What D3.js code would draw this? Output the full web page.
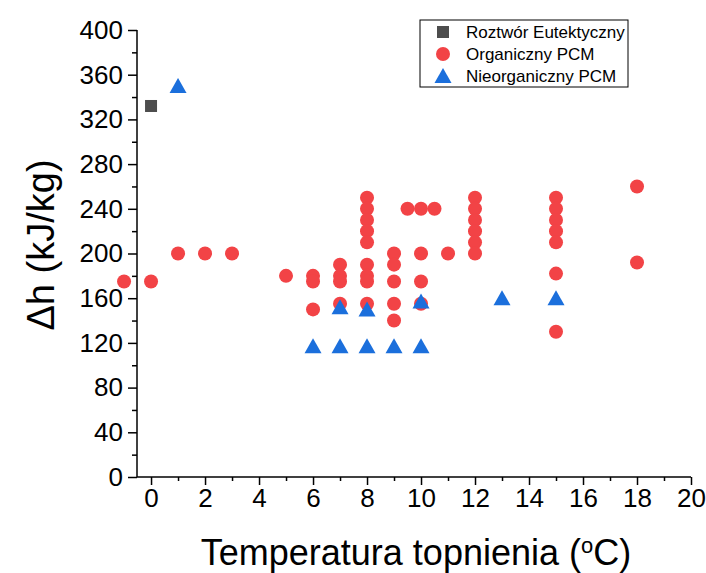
<!DOCTYPE html>
<html>
<head>
<meta charset="utf-8">
<script src="https://cdn.jsdelivr.net/npm/d3@7"></script>
<style>
  body { margin: 0; background: #fff; }
  svg { display: block; font-family: "Liberation Sans", Arial, sans-serif; }
</style>
</head>
<body>
<svg id="chart" width="706" height="573"></svg>
<script>
// melting temperature (°C) and latent heat (kJ/kg)
const eutecticX = [0]
const eutecticY = [332]

const organicX = [-1, 0, 1, 2, 3, 5,
  6, 6, 6,
  7, 7, 7, 7,
  8, 8, 8, 8, 8, 8, 8, 8, 8,
  9, 9, 9, 9, 9,
  9.5, 10, 10.5,
  10, 10, 10,
  11,
  12, 12, 12, 12, 12, 12,
  15, 15, 15, 15, 15, 15, 15,
  18, 18]
const organicY = [175, 175, 200, 200, 200, 180,
  180, 175, 150,
  190, 180, 175, 155,
  250, 240, 230, 220, 210, 190, 180, 175, 155,
  200, 190, 175, 155, 140,
  240, 240, 240,
  200, 175, 155,
  200,
  250, 240, 230, 220, 210, 200,
  250, 240, 230, 220, 210, 182, 130,
  260, 192]

const inorganicX = [1, 6, 7, 8, 9, 10, 7, 8, 10, 13, 15]
const inorganicY = [350, 117, 117, 117, 117, 117, 152, 150, 157, 160, 160]

const xTicks = d3.range(0, 21, 2)
const yTicks = d3.range(0, 401, 40)

const seriesNames = ['Roztwór Eutektyczny', 'Organiczny PCM', 'Nieorganiczny PCM']
const colors = { square: '#4d4d4d', circle: '#f24346', triangle: '#1b6fdc' }

const svg = d3.select('#chart')
const margin = { left: 137, right: 15, top: 30, bottom: 96 }
const width = 706, height = 573

const x = d3.scaleLinear().domain([-0.52, 20]).range([margin.left, width - margin.right])
const y = d3.scaleLinear().domain([0, 400]).range([height - margin.bottom, margin.top])

// axes
const xAxis = svg.append('g').attr('transform', `translate(0,${y(0)})`)
xAxis.append('g')
  .call(d3.axisBottom(x).tickValues(d3.range(1, 20, 2)).tickSize(4).tickFormat(''))
xAxis.append('g')
  .call(d3.axisBottom(x).tickValues(xTicks).tickSize(8).tickPadding(4).tickFormat(d3.format('d')))
xAxis.selectAll('.domain').remove()
xAxis.append('line')
  .attr('x1', x.range()[0]).attr('x2', x(20))
  .attr('stroke', '#000').attr('stroke-width', 1.5)

const yAxis = svg.append('g').attr('transform', `translate(${x.range()[0]},0)`)
yAxis.append('g')
  .call(d3.axisLeft(y).tickValues(d3.range(20, 400, 40)).tickSize(5).tickFormat(''))
yAxis.append('g')
  .call(d3.axisLeft(y).tickValues(yTicks).tickSize(9).tickPadding(5).tickFormat(d3.format('d')))
yAxis.selectAll('.domain').remove()
yAxis.append('line')
  .attr('y1', y(0)).attr('y2', y(400))
  .attr('stroke', '#000').attr('stroke-width', 1.5)

svg.selectAll('.tick line').attr('stroke-width', 1.5)
svg.selectAll('.tick text')
  .attr('font-size', 26)
  .attr('font-family', '"Liberation Sans", Arial, sans-serif')
  .attr('fill', '#000')

// axis titles
const xTitle = svg.append('text')
  .attr('x', 416).attr('y', 565)
  .attr('text-anchor', 'middle')
  .attr('font-size', 36)
xTitle.append('tspan').text('Temperatura topnienia (')
xTitle.append('tspan').attr('baseline-shift', 'super').attr('font-size', 22).text('o')
xTitle.append('tspan').text('C)')

svg.append('text')
  .attr('transform', 'translate(54,245) rotate(-90)')
  .attr('text-anchor', 'middle')
  .attr('font-size', 38)
  .text('Δh (kJ/kg)')

// marks
const triangle = (cx, cy) => `M${cx},${cy - 8}L${cx + 8.5},${cy + 7}L${cx - 8.5},${cy + 7}Z`

svg.append('g').selectAll('rect')
  .data(d3.zip(eutecticX, eutecticY))
  .join('rect')
  .attr('x', (d) => x(d[0]) - 6).attr('y', (d) => y(d[1]) - 6)
  .attr('width', 12).attr('height', 12)
  .attr('fill', colors.square)

svg.append('g').selectAll('circle')
  .data(d3.zip(organicX, organicY))
  .join('circle')
  .attr('cx', (d) => x(d[0])).attr('cy', (d) => y(d[1]))
  .attr('r', 7)
  .attr('fill', colors.circle)

svg.append('g').selectAll('path')
  .data(d3.zip(inorganicX, inorganicY))
  .join('path')
  .attr('d', (d) => triangle(x(d[0]), y(d[1])))
  .attr('fill', colors.triangle)

// legend
const legend = svg.append('g').attr('transform', 'translate(420,20)')
legend.append('rect')
  .attr('width', 208).attr('height', 67)
  .attr('fill', '#fff').attr('stroke', '#000').attr('stroke-width', 1)
const rows = legend.selectAll('g.row')
  .data(seriesNames)
  .join('g')
  .attr('class', 'row')
  .attr('transform', (d, i) => `translate(0,${12 + i * 22})`)
rows.each(function (d, i) {
  const g = d3.select(this)
  if (i === 0) {
    g.append('rect').attr('x', 17).attr('y', -6).attr('width', 12).attr('height', 12).attr('fill', colors.square)
  } else if (i === 1) {
    g.append('circle').attr('cx', 23).attr('r', 7).attr('fill', colors.circle)
  } else {
    g.append('path').attr('d', triangle(23, 0)).attr('fill', colors.triangle)
  }
})
rows.append('text')
  .attr('x', 46).attr('dy', '0.35em')
  .attr('font-size', 17)
  .text((d) => d)
</script>
</body>
</html>
